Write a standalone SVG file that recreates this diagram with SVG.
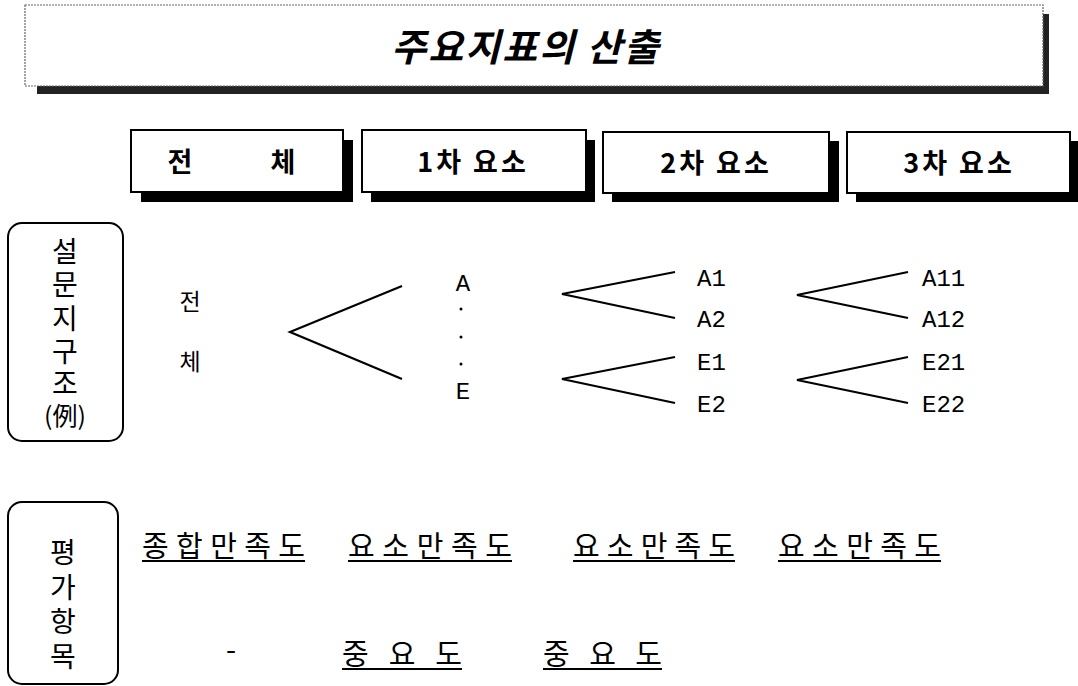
<svg xmlns="http://www.w3.org/2000/svg" width="1078" height="686" viewBox="0 0 1078 686">
<style>
.kr{font-family:"Noto Sans CJK KR","Noto Sans",sans-serif;fill:#000}
.hd{font-family:"Noto Sans CJK KR","Noto Sans",sans-serif;font-weight:bold;font-size:27px;fill:#000;text-anchor:middle}
.mono{font-family:"Liberation Mono","DejaVu Sans Mono",monospace;font-size:24px;fill:#000}
.box{fill:#fff;stroke:#000;stroke-width:2}
.shadow{fill:#000}
.rbox{fill:#fff;stroke:#000;stroke-width:2}
.conn{fill:none;stroke:#000;stroke-width:2.2;stroke-linejoin:miter}
.ul{stroke:#000;stroke-width:2}
.vt{font-family:"Noto Sans CJK KR",sans-serif;font-size:28px;fill:#000;text-anchor:middle}
.ev{font-family:"Noto Sans CJK KR",sans-serif;font-size:29px;fill:#000}
</style>
<rect width="1078" height="686" fill="#fff"/>

<g id="title">
  <rect x="37" y="14" width="1012" height="80" fill="#222"/>
  <rect x="25" y="5" width="1018" height="81" fill="#fff" stroke="#666" stroke-width="1.2" stroke-dasharray="2,1"/>
  <text x="526" y="61" class="kr" font-size="38" font-weight="bold" font-style="italic" text-anchor="middle" letter-spacing="2">주요지표의 산출</text>
</g>

<g id="hdr-total">
  <rect class="shadow" x="141" y="140" width="212" height="62"/>
  <rect class="box" x="131" y="130" width="212" height="62"/>
  <text class="hd" x="180" y="172">전</text>
  <text class="hd" x="283" y="172">체</text>
</g>
<g id="hdr-1st">
  <rect class="shadow" x="371" y="140" width="224" height="62"/>
  <rect class="box" x="362" y="130" width="224" height="62"/>
  <text class="hd" x="473" y="172" letter-spacing="3">1차 요소</text>
</g>
<g id="hdr-2nd">
  <rect class="shadow" x="612" y="141" width="227" height="61"/>
  <rect class="box" x="603" y="132" width="226" height="61"/>
  <text class="hd" x="716" y="173" letter-spacing="3">2차 요소</text>
</g>
<g id="hdr-3rd">
  <rect class="shadow" x="856" y="141" width="222" height="61"/>
  <rect class="box" x="847" y="132" width="223" height="61"/>
  <text class="hd" x="959" y="173" letter-spacing="3">3차 요소</text>
</g>

<g id="label-structure">
  <rect class="rbox" x="8" y="223" width="115" height="218" rx="14"/>
  <text class="vt"><tspan x="65" y="262">설</tspan><tspan x="65" y="295">문</tspan><tspan x="65" y="329">지</tspan><tspan x="65" y="362">구</tspan><tspan x="65" y="394">조</tspan><tspan x="65" y="425" font-size="25">(例)</tspan></text>
</g>

<g id="node-total">
  <text class="kr" x="190" y="310" font-size="23" text-anchor="middle">전</text>
  <text class="kr" x="190" y="370" font-size="23" text-anchor="middle">체</text>
</g>

<g id="node-1st">
  <text class="mono" x="463" y="291" text-anchor="middle">A</text>
  <circle cx="461" cy="309" r="1.5"/>
  <circle cx="461" cy="337" r="1.5"/>
  <circle cx="461" cy="364" r="1.5"/>
  <text class="mono" x="463" y="399" text-anchor="middle">E</text>
</g>

<g id="node-2nd">
  <text class="mono" x="697" y="286">A1</text>
  <text class="mono" x="697" y="327">A2</text>
  <text class="mono" x="697" y="370">E1</text>
  <text class="mono" x="697" y="412">E2</text>
</g>

<g id="node-3rd">
  <text class="mono" x="922" y="286">A11</text>
  <text class="mono" x="922" y="327">A12</text>
  <text class="mono" x="922" y="370">E21</text>
  <text class="mono" x="922" y="412">E22</text>
</g>

<g id="connectors">
  <polyline class="conn" points="402,286 290,332 402,379"/>
  <polyline class="conn" points="675,272 562,294 675,318"/>
  <polyline class="conn" points="675,357 562,379 675,403"/>
  <polyline class="conn" points="908,272 797,295 908,318"/>
  <polyline class="conn" points="908,357 797,380 908,403"/>
</g>

<g id="label-eval">
  <rect class="rbox" x="8" y="502" width="110" height="182" rx="14"/>
  <text class="vt"><tspan x="63" y="563">평</tspan><tspan x="63" y="598">가</tspan><tspan x="63" y="632">항</tspan><tspan x="63" y="667">목</tspan></text>
</g>

<g id="eval-total">
  <text class="ev" x="142" y="557" textLength="163" lengthAdjust="spacing">종합만족도</text>
  <line class="ul" x1="142" y1="561" x2="305" y2="561"/>
  <text class="ev" x="231" y="660" text-anchor="middle">-</text>
</g>
<g id="eval-1st">
  <text class="ev" x="348" y="557" textLength="164" lengthAdjust="spacing">요소만족도</text>
  <line class="ul" x1="348" y1="561" x2="512" y2="561"/>
  <text class="ev" x="342" y="665" textLength="120" lengthAdjust="spacing">중 요 도</text>
  <line class="ul" x1="342" y1="669" x2="462" y2="669"/>
</g>
<g id="eval-2nd">
  <text class="ev" x="573" y="557" textLength="162" lengthAdjust="spacing">요소만족도</text>
  <line class="ul" x1="573" y1="561" x2="735" y2="561"/>
  <text class="ev" x="543" y="665" textLength="119" lengthAdjust="spacing">중 요 도</text>
  <line class="ul" x1="543" y1="669" x2="662" y2="669"/>
</g>
<g id="eval-3rd">
  <text class="ev" x="778" y="557" textLength="163" lengthAdjust="spacing">요소만족도</text>
  <line class="ul" x1="778" y1="561" x2="941" y2="561"/>
</g>
</svg>
